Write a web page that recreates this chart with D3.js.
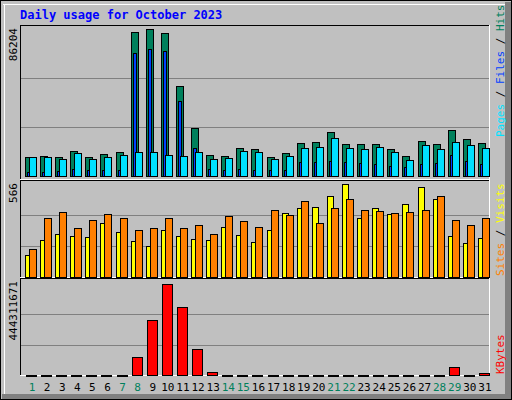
<!DOCTYPE html>
<html><head><meta charset="utf-8">
<script src="https://cdn.jsdelivr.net/npm/d3@7/dist/d3.min.js"></script>
<style>body{margin:0;background:#fff}</style></head>
<body><svg id="c" width="512" height="400"></svg>
<script>
const days = d3.range(1,32);
const weekend = [1,7,8,14,15,21,22,28,29];
const hits = [11140,11730,11140,14660,11140,12900,14070,84440,86204,83860,52780,28150,12310,11730,16420,15830,11140,13490,19350,19940,25800,18770,18770,18770,15830,11730,20520,18770,26980,21700,19350];
const files = [2300,2300,2900,4100,3500,3500,3500,72130,74470,73300,43980,16420,4100,3500,4100,3500,3500,3500,8200,8200,8800,8200,7600,7000,5900,5300,7000,7600,12300,8800,7000];
const pages = [11140,11140,9970,13490,9970,11140,12310,14070,14070,12310,11730,14070,9970,10560,14660,14070,9970,11730,16420,17000,22280,16420,15830,17000,14070,9380,18180,15830,19940,18180,16420];
const sites = [134,225,262,250,244,329,274,219,189,286,250,231,225,305,256,213,286,390,420,426,493,566,359,420,384,445,548,475,250,207,238];
const visits = [171,359,396,298,347,384,359,286,298,359,298,317,262,372,341,305,408,378,463,329,420,475,408,402,390,396,408,493,347,317,359];
const kbytes = [1000000,1000000,1000000,1000000,1000000,1000000,1000000,87900000,268500000,444311671,332000000,127000000,14600000,1000000,1000000,1000000,1000000,1000000,1000000,1000000,1000000,1000000,1000000,1000000,1000000,1000000,1000000,1000000,39000000,1000000,9000000];
const maxLabels = ["86204","566","444311671"];

const svg = d3.select("#c");
const font = "DejaVu Sans Mono";
// frame
svg.append("rect").attr("x",0).attr("y",0).attr("width",512).attr("height",400).attr("fill","#c0c0c0");
svg.append("rect").attr("x",0.5).attr("y",0.5).attr("width",511).attr("height",399).attr("fill","none").attr("stroke","#000");
svg.append("rect").attr("x",505).attr("y",2).attr("width",6).attr("height",397).attr("fill","#808080");
svg.append("rect").attr("x",2).attr("y",394).attr("width",509).attr("height",5).attr("fill","#808080");
svg.append("line").attr("x1",3).attr("y1",4.5).attr("x2",505).attr("y2",4.5).attr("stroke","#fff");
svg.append("line").attr("x1",4.5).attr("y1",4).attr("x2",4.5).attr("y2",394).attr("stroke","#fff");

svg.append("text").attr("x",20).attr("y",19).attr("font-family",font).attr("font-weight","bold")
  .attr("font-size",12).attr("fill","#0000ff").text("Daily usage for October 2023");

const x = d3.scaleBand().domain(days).range([21,489]);
const panels = [
  {top:25,bottom:180,base:176,max:86204},
  {top:180,bottom:278,base:277,max:566},
  {top:278,bottom:376,base:375,max:444311671}
];
panels.forEach((p,i)=>{
  svg.append("rect").attr("x",20.5).attr("y",p.top+0.5).attr("width",469).attr("height",p.bottom-p.top).attr("fill","#c0c0c0");
  p.y = d3.scaleLinear().domain([0,p.max]).range([p.base, p.base - (i==0?147:i==1?93:91)]);
  [1/3,2/3].forEach(f=>{
    const gy = Math.round(p.y(p.max*f))+0.5;
    svg.append("line").attr("x1",21).attr("x2",489).attr("y1",gy).attr("y2",gy).attr("stroke","#808080");
  });
  svg.append("line").attr("x1",20.5).attr("x2",20.5).attr("y1",p.top).attr("y2",p.bottom).attr("stroke","#000");
  svg.append("line").attr("x1",20).attr("x2",490).attr("y1",p.top+0.5).attr("y2",p.top+0.5).attr("stroke","#000");
  svg.append("line").attr("x1",489.5).attr("x2",489.5).attr("y1",p.top).attr("y2",p.bottom).attr("stroke","#fff");
  svg.append("line").attr("x1",20).attr("x2",490).attr("y1",p.bottom-0.5).attr("y2",p.bottom-0.5).attr("stroke","#fff");
  svg.append("text").attr("transform",`translate(17,${p.top+3}) rotate(-90)`).attr("text-anchor","end")
    .attr("font-family",font).attr("font-size",11).attr("fill","#000").text(maxLabels[i]);
});
function bars(pi, data, off, w, color){
  const p = panels[pi];
  svg.append("g").selectAll("rect").data(data).join("rect")
    .attr("x",(d,j)=>Math.round(x(days[j]))+off+0.5)
    .attr("y",d=>Math.round(p.y(d))+0.5)
    .attr("width",w).attr("height",d=>Math.max(1,Math.round(p.base-p.y(d))))
    .attr("fill",color).attr("stroke","#000").attr("stroke-width",1);
}
bars(0,hits,4,7,"#00805c");
bars(0,files,6,3,"#0040ff");
bars(0,pages,8,7,"#00e0ff");
bars(1,sites,4,6,"#ffff00");
bars(1,visits,8,7,"#ff8000");
bars(2,kbytes,5,10,"#ff0000");

svg.append("g").selectAll("text").data(days).join("text")
  .attr("x",d=>x(d)+11).attr("y",391).attr("text-anchor","middle")
  .attr("font-family",font).attr("font-size",11)
  .attr("fill",d=>weekend.includes(d)?"#00805c":"#000").text(d=>d);

function vlabel(y, parts){
  const t = svg.append("text").attr("transform",`translate(504,${y}) rotate(-90)`)
    .attr("font-family",font).attr("font-size",11);
  parts.forEach(([s,c])=>t.append("tspan").attr("fill",c).text(s));
}
vlabel(137,[["Pages","#00e0ff"],[" / ","#000"],["Files","#0040ff"],[" / ","#000"],["Hits","#00805c"]]);
vlabel(276,[["Sites","#ff8000"],[" / ","#000"],["Visits","#ffff00"]]);
vlabel(374,[["KBytes","#ff0000"]]);
</script></body></html>
